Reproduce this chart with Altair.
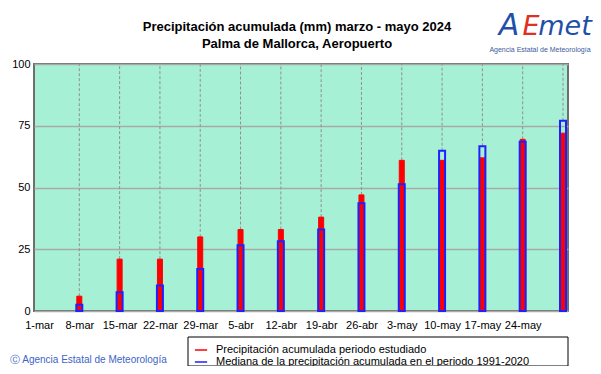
import altair as alt
import pandas as pd

# ---------------- data ----------------
fechas_barras = ['2024-03-08', '2024-03-15', '2024-03-22', '2024-03-29', '2024-04-05',
                 '2024-04-12', '2024-04-19', '2024-04-26', '2024-05-03', '2024-05-10',
                 '2024-05-17', '2024-05-24', '2024-05-31']
precip_estudiado = [6, 21, 21, 30, 33, 33, 38, 47, 61, 61, 62, 69.5, 72]
mediana_1991_2020 = [2.5, 7.6, 10.3, 17, 26.6, 28.2, 33, 43.6, 51.3, 64.9, 66.7, 68.5, 77]

fechas_eje = ['2024-03-01', '2024-03-08', '2024-03-15', '2024-03-22', '2024-03-29',
              '2024-04-05', '2024-04-12', '2024-04-19', '2024-04-26', '2024-05-03',
              '2024-05-10', '2024-05-17', '2024-05-24']
meses = {3: 'mar', 4: 'abr', 5: 'may'}
y_ticks = [0, 25, 50, 75, 100]

inicio = pd.Timestamp('2024-03-01')
fin = pd.Timestamp('2024-05-31')

serie_obs = 'Precipitación acumulada periodo estudiado'
serie_med = 'Mediana de la precipitación acumulada en el periodo 1991-2020'

titulo_1 = 'Precipitación acumulada (mm) marzo - mayo 2024'
titulo_2 = 'Palma de Mallorca, Aeropuerto'
copyright_txt = 'Ⓒ Agencia Estatal de Meteorología'

# ---------------- derived tables ----------------
dias = [(pd.Timestamp(f) - inicio).days for f in fechas_barras]
df = pd.DataFrame({'dia': dias, 'obs': precip_estudiado, 'med': mediana_1991_2020})
df['s_obs'] = serie_obs
df['s_med'] = serie_med

eje_dias = [(pd.Timestamp(f) - inicio).days for f in fechas_eje]
eje_labels = [f"{pd.Timestamp(f).day}-{meses[pd.Timestamp(f).month]}" for f in fechas_eje]
label_expr = "[" + ",".join(f"'{l}'" for l in eje_labels) + "][round(datum.value / 7)]"
dom_x = [0, (fin - inicio).days]

FONT = 'Liberation Sans'

x_enc = alt.X('dia:Q',
              scale=alt.Scale(domain=dom_x, nice=False, zero=False),
              axis=alt.Axis(values=eje_dias, labelExpr=label_expr, title=None,
                            ticks=False, grid=False, domain=False, labelPadding=8,
                            labelFontSize=11, labelFont=FONT, labelColor='black'))
y_scale = alt.Scale(domain=[0, 100], nice=False)
y_axis = alt.Axis(values=y_ticks, title=None, ticks=False, domain=False, grid=True,
                  gridColor='#a8aaa8', gridWidth=1.5, labelPadding=4, labelFontSize=11,
                  labelFont=FONT, labelColor='black')

stroke_scale = alt.Scale(domain=[serie_obs, serie_med], range=['#ff0000', '#2020ff'])
legend = alt.Legend(orient='none', legendX=160, legendY=279, title=None,
                    symbolType='stroke', symbolSize=150, symbolStrokeWidth=1.5,
                    labelFontSize=11, labelFont=FONT, labelColor='black',
                    rowPadding=0, labelOffset=8, padding=0, labelLimit=400)

base = alt.Chart(df)

grid_v = base.mark_rule(color='#909090', strokeDash=[3, 2], strokeWidth=1).transform_calculate(
    tope='max(datum.obs, datum.med)'
).encode(x=x_enc, y=alt.Y('tope:Q', scale=y_scale, axis=y_axis), y2=alt.datum(100))

rojo = base.mark_bar(size=5, fill='#ff0000', strokeWidth=1).encode(
    x=x_enc,
    y=alt.Y('obs:Q', scale=y_scale, axis=y_axis),
    stroke=alt.Stroke('s_obs:N', scale=stroke_scale, legend=legend),
)

azul = base.mark_bar(size=6, fill='transparent', strokeWidth=2).encode(
    x=x_enc,
    y=alt.Y('med:Q', scale=y_scale, axis=y_axis),
    stroke=alt.Stroke('s_med:N', scale=stroke_scale, legend=legend),
)

one = pd.DataFrame({'k': [0]})

def texto(txt, x, y, size, color='black', weight='normal', style='normal',
          font=FONT, align='center', baseline='middle'):
    return alt.Chart(one).mark_text(align=align, baseline=baseline, fontSize=size,
                                    font=font, color=color, fontWeight=weight,
                                    fontStyle=style, text=txt).encode(
        x=alt.value(x), y=alt.value(y))

legend_box = alt.Chart(one).mark_rect(fill='white', stroke='black', strokeWidth=1).encode(
    x=alt.value(154), x2=alt.value(534), y=alt.value(273), y2=alt.value(302))

title_1 = texto(titulo_1, 263, -37, 13, weight='bold')
title_2 = texto(titulo_2, 263, -20, 13, weight='bold')
copy_txt = texto(copyright_txt, -24, 296, 10, color='#3c64c8', align='left')

logo_A = texto('A', 475, -29, 30, color='#1f4fa8', style='italic', font='DejaVu Sans',
               baseline='alphabetic')
logo_E = texto('E', 497, -29, 27, color='#e03020', style='italic', font='DejaVu Sans',
               baseline='alphabetic')
logo_met = texto('met', 531, -29, 27, color='#1f4fa8', style='italic', font='DejaVu Sans',
                 baseline='alphabetic')
logo_sub = texto('Agencia Estatal de Meteorología', 506, -14, 7, color='#3c5aa0')

chart = alt.layer(
    grid_v, rojo, azul, legend_box, title_1, title_2, copy_txt,
    logo_A, logo_E, logo_met, logo_sub
).properties(
    width=534, height=247,
    autosize=alt.AutoSizeParams(type='none'),
    padding={'left': 26, 'top': 56, 'right': 25, 'bottom': 55},
    background='white',
).configure_view(
    fill='#a6f0d6', stroke='#6e6e6e', strokeWidth=2
)

chart.save("out.html", embed_options={"renderer": "svg", "actions": False})
